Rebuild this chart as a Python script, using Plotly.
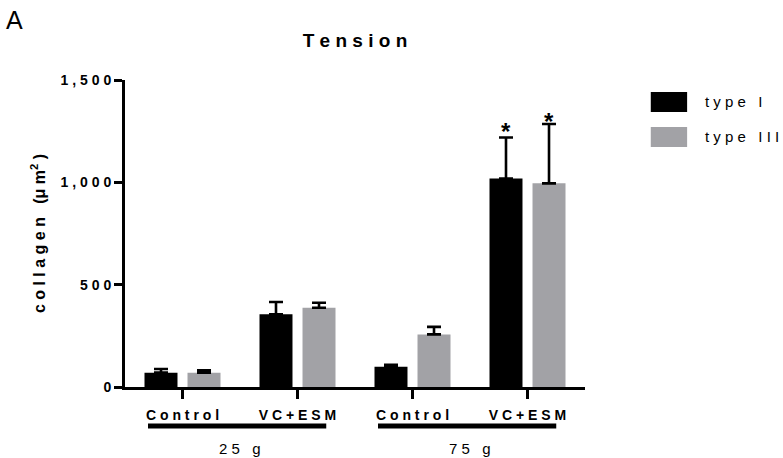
import plotly.graph_objects as go

categories = ["Control", "VC+ESM", "Control", "VC+ESM"]
groups = ["25 g", "75 g"]
type1 = [70, 355, 99, 1019]
type1_err = [18, 60, 10, 200]
type3 = [70, 387, 257, 995]
type3_err = [11, 25, 37, 290]
sig1 = [False, False, False, True]
sig3 = [False, False, False, True]
ytick_vals = [0, 500, 1000, 1500]
ytick_labels = ["0", "500", "1,000", "1,500"]

BLACK = "#000000"
GRAY = "#a2a2a6"
FONT = "Liberation Sans, Arial, sans-serif"


def sp(s):
    return " ".join("\u00a0" if c == " " else c for c in s)


x = list(range(len(categories)))
OFF = 0.187

fig = go.Figure()
fig.add_trace(go.Bar(
    x=x, y=type1, name="type I", marker=dict(color=BLACK, line=dict(width=0)),
    error_y=dict(type="data", array=type1_err, arrayminus=[0] * 4, symmetric=False,
                 thickness=2.6, width=7, color=BLACK),
))
fig.add_trace(go.Bar(
    x=x, y=type3, name="type III", marker=dict(color=GRAY, line=dict(width=0)),
    error_y=dict(type="data", array=type3_err, arrayminus=[0] * 4, symmetric=False,
                 thickness=2.6, width=7, color=BLACK),
))

annotations = []
for i in x:
    if sig1[i]:
        annotations.append(dict(x=i - OFF, y=type1[i] + type1_err[i], xref="x", yref="y",
                                text="*", showarrow=False, yanchor="middle", yshift=6,
                                font=dict(size=24, family=FONT, color=BLACK, weight="bold")))
    if sig3[i]:
        annotations.append(dict(x=i + OFF, y=type3[i] + type3_err[i], xref="x", yref="y",
                                text="*", showarrow=False, yanchor="middle", yshift=3,
                                font=dict(size=24, family=FONT, color=BLACK, weight="bold")))

shapes = []
for g, label in enumerate(groups):
    start = 2 * g
    shapes.append(dict(type="line", xref="x", yref="paper", x0=start - 0.3, x1=start + 1.25,
                       y0=-0.127, y1=-0.127, line=dict(color=BLACK, width=5)))
    annotations.append(dict(x=start + 0.5, y=-0.2, xref="x", yref="paper", text=sp(label),
                            showarrow=False, yanchor="middle",
                            font=dict(size=15, family=FONT, color=BLACK)))

# legend
legend_items = [("type I", BLACK, 0.961, 0.896), ("type III", GRAY, 0.847, 0.782)]
for name, col, y1, y0 in legend_items:
    shapes.append(dict(type="rect", xref="paper", yref="paper", x0=1.143, x1=1.222,
                       y0=y0, y1=y1, fillcolor=col, line=dict(width=0)))
    annotations.append(dict(x=1.257, y=(y0 + y1) / 2, xref="paper", yref="paper",
                            text=sp(name), showarrow=False, xanchor="left", yanchor="middle",
                            font=dict(size=15, family=FONT, color=BLACK)))

annotations.append(dict(x=-0.262, y=1.195, xref="paper", yref="paper", text="A",
                        showarrow=False, xanchor="left", yanchor="middle",
                        font=dict(size=25, family=FONT, color=BLACK)))

fig.update_layout(
    width=783, height=458,
    margin=dict(l=125, r=198, t=80, b=71, autoexpand=False),
    paper_bgcolor="white", plot_bgcolor="white",
    barmode="group", bargap=0.252, bargroupgap=0.233,
    showlegend=False,
    title=dict(text=sp("Tension"), x=0.5, xref="paper", xanchor="center",
               y=1 - 40 / 458, yref="container", yanchor="middle",
               font=dict(size=19, family=FONT, color=BLACK, weight="bold")),
    xaxis=dict(range=[-0.5, 3.5], tickvals=x, ticktext=[sp(c) for c in categories],
               showline=True, linecolor=BLACK, linewidth=3, ticks="outside",
               ticklen=9, tickwidth=3, tickcolor=BLACK, showgrid=False, zeroline=False,
               ticklabelstandoff=4, automargin=False,
               tickfont=dict(size=14, family=FONT, color=BLACK, weight="bold")),
    yaxis=dict(range=[0, 1500], tickvals=ytick_vals, ticktext=[sp(t) for t in ytick_labels],
               showline=True, linecolor=BLACK, linewidth=3, ticks="outside",
               ticklen=8, tickwidth=3, tickcolor=BLACK, showgrid=False, zeroline=False,
               automargin=False,
               tickfont=dict(size=14, family=FONT, color=BLACK, weight="bold"),
               title=dict(text=sp("collagen (") + "\u03bc m<sup>2</sup> )", standoff=12,
                          font=dict(size=16, family=FONT, color=BLACK, weight="bold"))),
    annotations=annotations,
    shapes=shapes,
)

fig.write_html("out.html", config={"displayModeBar": False},
               post_script="document.body.style.margin='0px';")
